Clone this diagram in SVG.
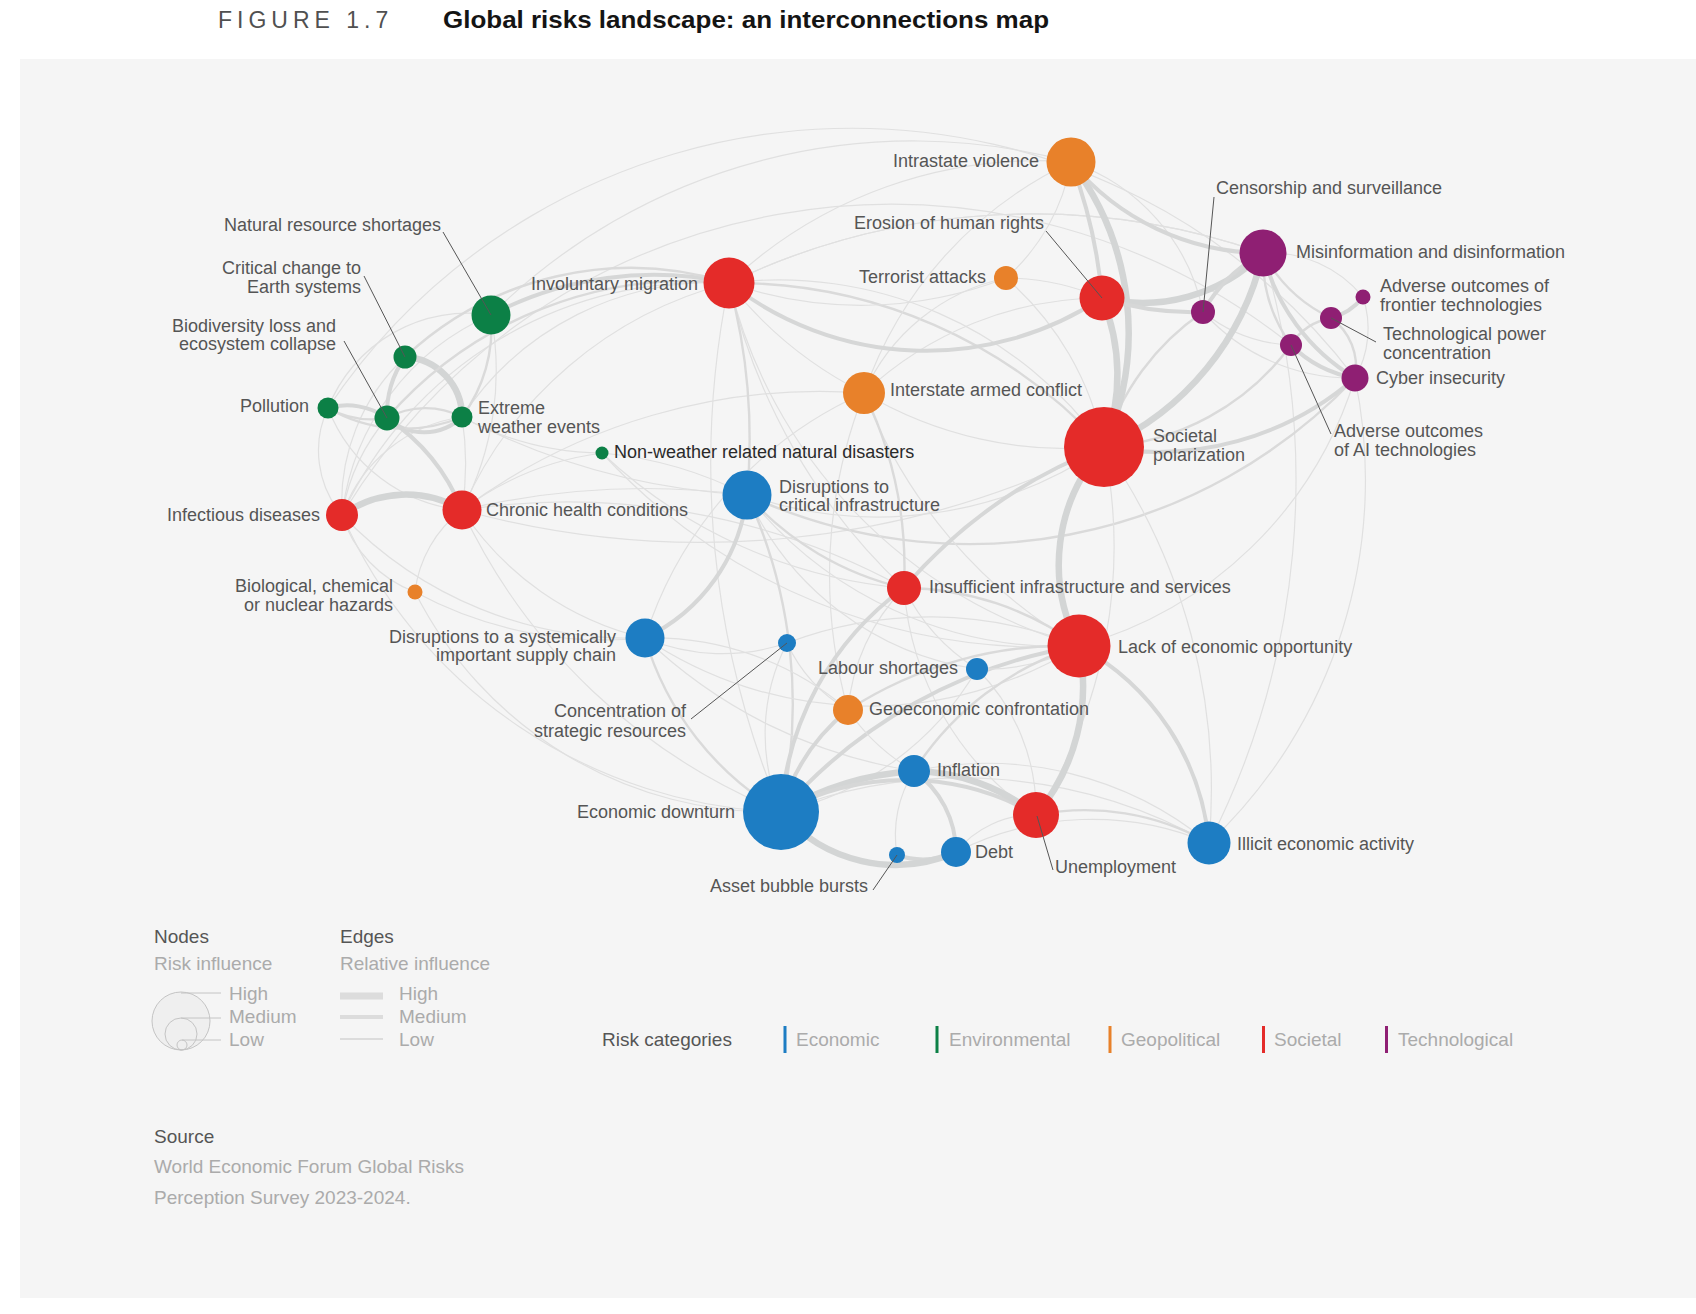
<svg xmlns="http://www.w3.org/2000/svg" width="1696" height="1314" viewBox="0 0 1696 1314">
<style>
text{font-family:"Liberation Sans",Arial,sans-serif;}
.lbl{font-size:18px;fill:#555;}
.dark{fill:#2a2a2a;}
.leg{font-size:19px;fill:#555;}
.legl{font-size:19px;fill:#ababab;}
.ld{stroke:#555;stroke-width:1;fill:none;}
#edges path{fill:none;stroke-linecap:round;}
.e1{stroke:#e0e0e0;stroke-width:1.2;}
.e2{stroke:#dadada;stroke-width:2.4;}
.e3{stroke:#d6d7d7;stroke-width:4;}
.e4{stroke:#d3d5d5;stroke-width:6.5;}
.ec{fill:#1d7dc3;}
.en{fill:#0c8046;}
.eg{fill:#e8812a;}
.es{fill:#e42b29;}
.et{fill:#8f1f73;}
</style>
<rect x="0" y="0" width="1696" height="1314" fill="#ffffff"/>
<rect x="20" y="59" width="1676" height="1239" fill="#f5f5f5"/>
<text x="218" y="28" font-size="23" letter-spacing="5" fill="#505050">FIGURE 1.7</text>
<text x="443" y="28" font-size="24" font-weight="bold" fill="#141414" textLength="606" lengthAdjust="spacingAndGlyphs">Global risks landscape: an interconnections map</text>

<g id="edges">
<!-- long faint arcs -->
<path class="e1" d="M328 408 A631 631 0 0 1 1355 378"/>
<path class="e1" d="M342 515 A640 640 0 0 1 1291 345"/>
<path class="e1" d="M1355 378 A500 500 0 0 1 1209 843"/>
<path class="e1" d="M1263 253 A800 800 0 0 1 1209 843"/>
<path class="e1" d="M1355 378 A400 400 0 0 1 1079 646"/>
<path class="e1" d="M491 315 A600 600 0 0 1 1071 162"/>
<path class="e1" d="M729 283 A700 700 0 0 1 1263 253"/>
<path class="e1" d="M1263 253 A700 700 0 0 0 729 283"/>
<path class="e1" d="M342 515 A400 400 0 0 1 729 283"/>
<path class="e1" d="M462 510 A400 400 0 0 1 729 283"/>
<path class="e1" d="M462 510 A600 600 0 0 1 864 393"/>
<path class="e1" d="M415 592 A400 400 0 0 0 781 812"/>
<path class="e1" d="M342 515 A400 400 0 0 0 645 638"/>
<path class="e1" d="M342 515 A500 500 0 0 0 781 812"/>
<path class="e1" d="M1104 447 A900 900 0 0 1 462 510"/>
<path class="e2" d="M747 495 A530 530 0 0 0 1355 378"/>
<path class="e1" d="M462 417 A700 700 0 0 0 747 495"/>
<path class="e1" d="M462 417 A300 300 0 0 1 729 283"/>
<path class="e1" d="M328 408 A150 150 0 0 1 491 315"/>
<path class="e1" d="M328 408 A100 100 0 0 0 342 515"/>
<path class="e1" d="M328 408 A160 160 0 0 0 462 510"/>
<path class="e1" d="M491 315 A300 300 0 0 1 462 510"/>
<path class="e1" d="M491 315 A250 250 0 0 0 342 515"/>
<path class="e1" d="M462 417 A150 150 0 0 0 342 515"/>
<path class="e1" d="M462 417 A300 300 0 0 1 462 510"/>
<path class="e1" d="M462 417 A300 300 0 0 0 602 453"/>
<path class="e1" d="M405 357 A200 200 0 0 0 342 515"/>
<path class="e1" d="M387 418 A200 200 0 0 0 342 515"/>
<path class="e1" d="M342 515 A120 120 0 0 0 415 592"/>
<path class="e1" d="M462 510 A120 120 0 0 0 415 592"/>
<path class="e1" d="M645 638 A400 400 0 0 1 415 592"/>
<path class="e1" d="M645 638 A300 300 0 0 1 462 510"/>
<path class="e1" d="M462 510 A800 800 0 0 1 747 495"/>
<path class="e1" d="M462 510 A300 300 0 0 1 602 453"/>
<path class="e1" d="M462 510 A600 600 0 0 0 781 812"/>
<path class="e1" d="M462 510 A700 700 0 0 1 904 588"/>
<path class="e1" d="M602 453 A400 400 0 0 1 747 495"/>
<path class="e1" d="M602 453 A500 500 0 0 0 904 588"/>
<path class="e1" d="M602 453 A600 600 0 0 0 1079 646"/>
<path class="e1" d="M729 283 A900 900 0 0 0 781 812"/>
<path class="e1" d="M729 283 A400 400 0 0 0 864 393"/>
<path class="e1" d="M729 283 A500 500 0 0 0 1079 646"/>
<path class="e1" d="M729 283 A600 600 0 0 0 904 588"/>
<path class="e2" d="M729 283 A600 600 0 0 1 747 495"/>
<path class="e2" d="M729 283 A500 500 0 0 1 1104 447"/>
<path class="e1" d="M1071 162 A450 450 0 0 0 729 283"/>
<path class="e1" d="M1006 278 A400 400 0 0 1 729 283"/>
<path class="e1" d="M864 393 A200 200 0 0 1 1006 278"/>
<path class="e1" d="M864 393 A400 400 0 0 1 1071 162"/>
<path class="e1" d="M1006 278 A200 200 0 0 0 1071 162"/>
<path class="e1" d="M1006 278 A300 300 0 0 1 1104 447"/>
<path class="e1" d="M1102 298 A250 250 0 0 0 1006 278"/>
<path class="e1" d="M1102 298 A350 350 0 0 0 864 393"/>
<path class="e1" d="M864 393 A400 400 0 0 0 1104 447"/>
<path class="e1" d="M864 393 A500 500 0 0 0 1079 646"/>
<path class="e1" d="M864 393 A400 400 0 0 0 645 638"/>
<path class="e1" d="M864 393 A500 500 0 0 0 848 710"/>
<path class="e2" d="M864 393 A400 400 0 0 1 904 588"/>
<path class="e1" d="M1203 312 A200 200 0 0 0 1071 162"/>
<path class="e1" d="M1203 312 A150 150 0 0 0 1291 345"/>
<path class="e1" d="M1203 312 A200 200 0 0 0 1355 378"/>
<path class="e2" d="M1104 447 A250 250 0 0 1 1203 312"/>
<path class="e2" d="M1104 447 A250 250 0 0 0 1291 345"/>
<path class="e3" d="M1104 447 A300 300 0 0 0 1355 378"/>
<path class="e1" d="M1363 297 A120 120 0 0 0 1263 253"/>
<path class="e1" d="M1363 297 A100 100 0 0 1 1355 378"/>
<path class="e3" d="M1363 297 A60 60 0 0 1 1331 318"/>
<path class="e2" d="M1331 318 A60 60 0 0 1 1355 378"/>
<path class="e2" d="M1291 345 A60 60 0 0 1 1331 318"/>
<path class="e1" d="M1104 447 A400 400 0 0 0 729 283"/>
<path class="e1" d="M1036 815 A500 500 0 0 0 1104 447"/>
<path class="e1" d="M1209 843 A600 600 0 0 0 1104 447"/>
<path class="e1" d="M747 495 A400 400 0 0 0 1104 447"/>
<path class="e2" d="M747 495 A300 300 0 0 0 904 588"/>
<path class="e1" d="M747 495 A400 400 0 0 0 1079 646"/>
<path class="e1" d="M747 495 A300 300 0 0 0 977 669"/>
<path class="e2" d="M747 495 A500 500 0 0 1 781 812"/>
<path class="e3" d="M747 495 A180 180 0 0 1 645 638"/>
<path class="e2" d="M645 638 A300 300 0 0 0 781 812"/>
<path class="e1" d="M645 638 A500 500 0 0 0 914 771"/>
<path class="e1" d="M645 638 A400 400 0 0 0 1079 646"/>
<path class="e1" d="M787 643 A200 200 0 0 0 781 812"/>
<path class="e1" d="M787 643 A150 150 0 0 0 848 710"/>
<path class="e1" d="M787 643 A200 200 0 0 1 645 638"/>
<path class="e1" d="M787 643 A400 400 0 0 1 1079 646"/>
<path class="e3" d="M904 588 A300 300 0 0 0 781 812"/>
<path class="e1" d="M904 588 A200 200 0 0 0 977 669"/>
<path class="e1" d="M904 588 A200 200 0 0 0 848 710"/>
<path class="e1" d="M904 588 A300 300 0 0 0 1036 815"/>
<path class="e3" d="M1104 447 A500 500 0 0 0 904 588"/>
<path class="e2" d="M1079 646 A300 300 0 0 0 904 588"/>
<path class="e3" d="M1079 646 A500 500 0 0 0 781 812"/>
<path class="e1" d="M977 669 A200 200 0 0 0 1079 646"/>
<path class="e1" d="M977 669 A300 300 0 0 1 781 812"/>
<path class="e1" d="M977 669 A200 200 0 0 1 1036 815"/>
<path class="e2" d="M848 710 A400 400 0 0 1 1079 646"/>
<path class="e1" d="M848 710 A200 200 0 0 0 914 771"/>
<path class="e1" d="M848 710 A300 300 0 0 0 645 638"/>
<path class="e3" d="M848 710 A200 200 0 0 0 781 812"/>
<path class="e2" d="M914 771 A300 300 0 0 1 1079 646"/>
<path class="e1" d="M914 771 A350 350 0 0 1 1209 843"/>
<path class="e1" d="M781 812 A500 500 0 0 1 1209 843"/>
<path class="e1" d="M897 855 A120 120 0 0 1 914 771"/>
<path class="e3" d="M897 855 A80 80 0 0 0 956 852"/>
<path class="e1" d="M956 852 A100 100 0 0 1 1036 815"/>
<path class="e3" d="M914 771 A100 100 0 0 1 956 852"/>
<path class="e2" d="M1036 815 A250 250 0 0 1 1209 843"/>
<path class="e1" d="M956 852 A300 300 0 0 1 1209 843"/>
<!-- thick -->
<path class="e4" d="M1263 253 A280 280 0 0 1 1104 447"/>
<path class="e4" d="M1071 162 A280 280 0 0 1 1104 447"/>
<path class="e4" d="M1102 298 A200 200 0 0 1 1104 447"/>
<path class="e3" d="M1071 162 A500 500 0 0 1 1102 298"/>
<path class="e3" d="M1071 162 A250 250 0 0 0 1263 253"/>
<path class="e4" d="M1102 298 A170 170 0 0 0 1263 253"/>
<path class="e3" d="M1102 298 A300 300 0 0 0 1203 312"/>
<path class="e3" d="M1203 312 A150 150 0 0 1 1263 253"/>
<path class="e3" d="M729 283 A320 320 0 0 0 1102 298"/>
<path class="e4" d="M781 812 A300 300 0 0 1 914 771"/>
<path class="e4" d="M781 812 A150 150 0 0 0 956 852"/>
<path class="e3" d="M781 812 A260 260 0 0 1 1036 815"/>
<path class="e4" d="M914 771 A200 200 0 0 1 1036 815"/>
<path class="e4" d="M1079 646 A200 200 0 0 1 1036 815"/>
<path class="e4" d="M1104 447 A175 175 0 0 0 1079 646"/>
<path class="e3" d="M1079 646 A250 250 0 0 1 1209 843"/>
<path class="e4" d="M342 515 A110 110 0 0 1 462 510"/>
<path class="e4" d="M405 357 A60 60 0 0 1 462 417"/>
<path class="e3" d="M405 357 A100 100 0 0 0 387 418"/>
<path class="e3" d="M328 408 A70 70 0 0 1 387 418"/>
<path class="e2" d="M328 408 A90 90 0 0 0 387 418"/>
<path class="e3" d="M387 418 A55 55 0 0 0 462 417"/>
<path class="e2" d="M387 418 A80 80 0 0 1 462 417"/>
<path class="e2" d="M328 408 A150 150 0 0 0 462 417"/>
<path class="e3" d="M387 418 A200 200 0 0 1 462 510"/>
<path class="e2" d="M491 315 A150 150 0 0 1 462 417"/>
<path class="e3" d="M1291 345 A120 120 0 0 0 1355 378"/>
<path class="e3" d="M1263 253 A200 200 0 0 0 1355 378"/>
<path class="e2" d="M1263 253 A150 150 0 0 0 1291 345"/>
<path class="e2" d="M1263 253 A150 150 0 0 0 1331 318"/>
<path class="e3" d="M729 283 A350 350 0 0 0 491 315"/>
<path class="e2" d="M729 283 A330 330 0 0 0 405 357"/>
<path class="e2" d="M729 283 A400 400 0 0 0 387 418"/>
</g>

<g id="legend-title"></g>

<!-- Environmental -->
<g id="node-nrs"><circle class="en" cx="491" cy="315" r="19.5"/><path class="ld" d="M443 232 L491 315"/><text class="lbl" x="441" y="231" text-anchor="end">Natural resource shortages</text></g>
<g id="node-cce"><circle class="en" cx="405" cy="357" r="11.5"/><path class="ld" d="M364 276 L405 357"/><text class="lbl" x="361" y="274" text-anchor="end">Critical change to</text><text class="lbl" x="361" y="293" text-anchor="end">Earth systems</text></g>
<g id="node-bio"><circle class="en" cx="387" cy="418" r="12.5"/><path class="ld" d="M344 341 L387 418"/><text class="lbl" x="336" y="332" text-anchor="end">Biodiversity loss and</text><text class="lbl" x="336" y="350" text-anchor="end">ecosystem collapse</text></g>
<g id="node-pol"><circle class="en" cx="328" cy="408" r="10.5"/><text class="lbl" x="309" y="412" text-anchor="end">Pollution</text></g>
<g id="node-ewe"><circle class="en" cx="462" cy="417" r="10.5"/><text class="lbl" x="478" y="414">Extreme</text><text class="lbl" x="478" y="433">weather events</text></g>
<g id="node-nwd"><circle class="en" cx="602" cy="453" r="6.5"/><text class="lbl dark" x="614" y="458">Non-weather related natural disasters</text></g>

<!-- Societal -->
<g id="node-im"><circle class="es" cx="729" cy="283" r="25.5"/><text class="lbl" x="698" y="290" text-anchor="end">Involuntary migration</text></g>
<g id="node-ehr"><circle class="es" cx="1102" cy="298" r="22.5"/><path class="ld" d="M1046 231 L1102 298"/><text class="lbl" x="1044" y="229" text-anchor="end">Erosion of human rights</text></g>
<g id="node-sp"><circle class="es" cx="1104" cy="447" r="40"/><text class="lbl" x="1153" y="442">Societal</text><text class="lbl" x="1153" y="461">polarization</text></g>
<g id="node-infd"><circle class="es" cx="342" cy="515" r="16"/><text class="lbl" x="320" y="521" text-anchor="end">Infectious diseases</text></g>
<g id="node-chc"><circle class="es" cx="462" cy="510" r="19.5"/><text class="lbl" x="486" y="516">Chronic health conditions</text></g>
<g id="node-iis"><circle class="es" cx="904" cy="588" r="17"/><text class="lbl" x="929" y="593">Insufficient infrastructure and services</text></g>
<g id="node-leo"><circle class="es" cx="1079" cy="646" r="31.5"/><text class="lbl" x="1118" y="653">Lack of economic opportunity</text></g>
<g id="node-une"><circle class="es" cx="1036" cy="815" r="23"/><path class="ld" d="M1037 816 L1053 870"/><text class="lbl" x="1055" y="873">Unemployment</text></g>

<!-- Geopolitical -->
<g id="node-iv"><circle class="eg" cx="1071" cy="162" r="24.5"/><text class="lbl" x="1039" y="167" text-anchor="end">Intrastate violence</text></g>
<g id="node-ta"><circle class="eg" cx="1006" cy="278" r="12"/><text class="lbl" x="986" y="283" text-anchor="end">Terrorist attacks</text></g>
<g id="node-iac"><circle class="eg" cx="864" cy="393" r="21"/><text class="lbl" x="890" y="396">Interstate armed conflict</text></g>
<g id="node-bcn"><circle class="eg" cx="415" cy="592" r="7.5"/><text class="lbl" x="393" y="592" text-anchor="end">Biological, chemical</text><text class="lbl" x="393" y="611" text-anchor="end">or nuclear hazards</text></g>
<g id="node-geo"><circle class="eg" cx="848" cy="710" r="15"/><text class="lbl" x="869" y="715">Geoeconomic confrontation</text></g>

<!-- Technological -->
<g id="node-mis"><circle class="et" cx="1263" cy="253" r="23.5"/><text class="lbl" x="1296" y="258">Misinformation and disinformation</text></g>
<g id="node-cen"><circle class="et" cx="1203" cy="312" r="12"/><path class="ld" d="M1214 197 L1203 312"/><text class="lbl" x="1216" y="194">Censorship and surveillance</text></g>
<g id="node-aof"><circle class="et" cx="1363" cy="297" r="7.5"/><text class="lbl" x="1380" y="292">Adverse outcomes of</text><text class="lbl" x="1380" y="311">frontier technologies</text></g>
<g id="node-tpc"><circle class="et" cx="1331" cy="318" r="11"/><path class="ld" d="M1376 342 L1331 318"/><text class="lbl" x="1383" y="340">Technological power</text><text class="lbl" x="1383" y="359">concentration</text></g>
<g id="node-ai"><circle class="et" cx="1291" cy="345" r="11"/><path class="ld" d="M1291 345 L1331 434"/><text class="lbl" x="1334" y="437">Adverse outcomes</text><text class="lbl" x="1334" y="456">of AI technologies</text></g>
<g id="node-cyb"><circle class="et" cx="1355" cy="378" r="13.5"/><text class="lbl" x="1376" y="384">Cyber insecurity</text></g>

<!-- Economic -->
<g id="node-dci"><circle class="ec" cx="747" cy="495" r="24.5"/><text class="lbl" x="779" y="493">Disruptions to</text><text class="lbl" x="779" y="511">critical infrastructure</text></g>
<g id="node-dsc"><circle class="ec" cx="645" cy="638" r="19.5"/><text class="lbl" x="616" y="643" text-anchor="end">Disruptions to a systemically</text><text class="lbl" x="616" y="661" text-anchor="end">important supply chain</text></g>
<g id="node-csr"><circle class="ec" cx="787" cy="643" r="9"/><path class="ld" d="M691 719 L787 643"/><text class="lbl" x="686" y="717" text-anchor="end">Concentration of</text><text class="lbl" x="686" y="737" text-anchor="end">strategic resources</text></g>
<g id="node-lab"><circle class="ec" cx="977" cy="669" r="11"/><text class="lbl" x="958" y="674" text-anchor="end">Labour shortages</text></g>
<g id="node-inf"><circle class="ec" cx="914" cy="771" r="16"/><text class="lbl" x="937" y="776">Inflation</text></g>
<g id="node-ed"><circle class="ec" cx="781" cy="812" r="38"/><text class="lbl" x="735" y="818" text-anchor="end">Economic downturn</text></g>
<g id="node-abb"><circle class="ec" cx="897" cy="855" r="8"/><path class="ld" d="M873 890 L897 855"/><text class="lbl" x="868" y="892" text-anchor="end">Asset bubble bursts</text></g>
<g id="node-debt"><circle class="ec" cx="956" cy="852" r="15"/><text class="lbl" x="975" y="858">Debt</text></g>
<g id="node-ill"><circle class="ec" cx="1209" cy="843" r="21.5"/><text class="lbl" x="1237" y="850">Illicit economic activity</text></g>

<!-- Legend -->
<g id="legend">
<text class="leg" x="154" y="943">Nodes</text>
<text class="legl" x="154" y="970">Risk influence</text>
<circle cx="181" cy="1021" r="29" fill="#efefef" stroke="#c4c4c4" stroke-width="1"/>
<circle cx="181" cy="1034" r="16" fill="none" stroke="#c4c4c4" stroke-width="1"/>
<circle cx="182" cy="1045" r="5" fill="none" stroke="#c4c4c4" stroke-width="1"/>
<path d="M181 993 H221 M181 1018 H221 M182 1040 H221" stroke="#c4c4c4" stroke-width="1" fill="none"/>
<text class="legl" x="229" y="1000">High</text>
<text class="legl" x="229" y="1023">Medium</text>
<text class="legl" x="229" y="1046">Low</text>
<text class="leg" x="340" y="943">Edges</text>
<text class="legl" x="340" y="970">Relative influence</text>
<path d="M340 996 H383" stroke="#dcdcdc" stroke-width="7"/>
<path d="M340 1017 H383" stroke="#dcdcdc" stroke-width="4"/>
<path d="M340 1039 H383" stroke="#dcdcdc" stroke-width="2"/>
<text class="legl" x="399" y="1000">High</text>
<text class="legl" x="399" y="1023">Medium</text>
<text class="legl" x="399" y="1046">Low</text>
<text class="leg" x="602" y="1046">Risk categories</text>
<rect x="783.5" y="1026" width="3" height="27" fill="#1d7dc3"/>
<text class="legl" x="796" y="1046">Economic</text>
<rect x="935.5" y="1026" width="3" height="27" fill="#0c8046"/>
<text class="legl" x="949" y="1046">Environmental</text>
<rect x="1108.5" y="1026" width="3" height="27" fill="#e8812a"/>
<text class="legl" x="1121" y="1046">Geopolitical</text>
<rect x="1262" y="1026" width="3" height="27" fill="#e42b29"/>
<text class="legl" x="1274" y="1046">Societal</text>
<rect x="1385" y="1026" width="3" height="27" fill="#8f1f73"/>
<text class="legl" x="1398" y="1046">Technological</text>
<text class="leg" x="154" y="1143">Source</text>
<text class="legl" x="154" y="1173">World Economic Forum Global Risks</text>
<text class="legl" x="154" y="1204">Perception Survey 2023-2024.</text>
</g>
</svg>
